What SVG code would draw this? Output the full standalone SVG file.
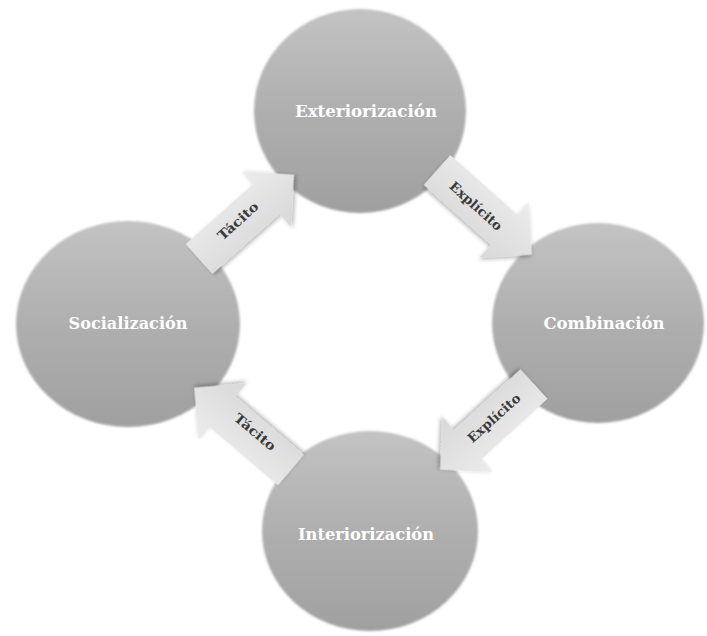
<svg xmlns="http://www.w3.org/2000/svg" width="707" height="636" viewBox="0 0 707 636">
  <defs>
    <linearGradient id="ballFill" x1="0" y1="0" x2="0" y2="1">
      <stop offset="0" stop-color="#c3c3c3"/>
      <stop offset="0.5" stop-color="#afafaf"/>
      <stop offset="1" stop-color="#a0a0a0"/>
    </linearGradient>
    <linearGradient id="arrowFill" x1="0" y1="0" x2="0" y2="1">
      <stop offset="0" stop-color="#ececec"/>
      <stop offset="1" stop-color="#d8d8d8"/>
    </linearGradient>
    <filter id="soft" x="-10%" y="-10%" width="120%" height="120%">
      <feGaussianBlur stdDeviation="0.9"/>
    </filter>
    <filter id="lift" x="-20%" y="-30%" width="140%" height="160%">
      <feGaussianBlur in="SourceAlpha" stdDeviation="2"/>
      <feOffset dx="1" dy="2" result="b"/>
      <feComponentTransfer><feFuncA type="linear" slope="0.3"/></feComponentTransfer>
      <feMerge><feMergeNode/><feMergeNode in="SourceGraphic"/></feMerge>
    </filter>
    <!-- block arrow, back end at origin, pointing along +x -->
    <polygon id="blockArrow" points="0,-20 90,-20 90,-37 127,0 90,37 90,20 0,20"/>
  </defs>
  <style>
    .ball { fill: url(#ballFill); filter: url(#soft); }
    .ballLabel { font-family: "DejaVu Serif", "Liberation Serif", serif; font-weight: bold; font-size: 16px; fill: #ffffff; text-anchor: middle; }
    .arrow { fill: url(#arrowFill); filter: url(#lift); }
    .arrowLabel { font-family: "DejaVu Serif", "Liberation Serif", serif; font-weight: bold; font-size: 13px; fill: #3a3a3a; text-anchor: middle; }
  </style>
  <rect width="707" height="636" fill="#ffffff"/>

  <g id="exteriorizacion">
    <ellipse class="ball" cx="360" cy="111" rx="106" ry="102"/>
    <text class="ballLabel" x="366" y="117" textLength="142" lengthAdjust="spacingAndGlyphs">Exteriorización</text>
  </g>
  <g id="socializacion">
    <ellipse class="ball" cx="128" cy="324" rx="112" ry="103"/>
    <text class="ballLabel" x="128" y="329" textLength="119" lengthAdjust="spacingAndGlyphs">Socialización</text>
  </g>
  <g id="combinacion">
    <ellipse class="ball" cx="598" cy="323" rx="106" ry="100"/>
    <text class="ballLabel" x="604" y="329" textLength="121" lengthAdjust="spacingAndGlyphs">Combinación</text>
  </g>
  <g id="interiorizacion">
    <ellipse class="ball" cx="370" cy="531" rx="108" ry="100"/>
    <text class="ballLabel" x="366" y="540" textLength="136" lengthAdjust="spacingAndGlyphs">Interiorización</text>
  </g>

  <g id="connectors">
    <g id="tacito-up">
      <use href="#blockArrow" class="arrow" transform="translate(199,259) rotate(-41.6)"/>
      <text class="arrowLabel" transform="translate(238,221) rotate(-42)" dy="0.35em" textLength="50" lengthAdjust="spacingAndGlyphs">Tácito</text>
    </g>
    <g id="explicito-down">
      <use href="#blockArrow" class="arrow" transform="translate(437,170) rotate(41.7)"/>
      <text class="arrowLabel" transform="translate(476,206) rotate(42)" dy="0.35em" textLength="66" lengthAdjust="spacingAndGlyphs">Explícito</text>
    </g>
    <g id="explicito-back">
      <use href="#blockArrow" class="arrow" transform="translate(534,384) rotate(137.6)"/>
      <text class="arrowLabel" transform="translate(494,418) rotate(-42)" dy="0.35em" textLength="66" lengthAdjust="spacingAndGlyphs">Explícito</text>
    </g>
    <g id="tacito-return">
      <use href="#blockArrow" class="arrow" transform="translate(291,470) rotate(-139.6)"/>
      <text class="arrowLabel" transform="translate(255,432) rotate(40)" dy="0.35em" textLength="50" lengthAdjust="spacingAndGlyphs">Tácito</text>
    </g>
  </g>
</svg>
